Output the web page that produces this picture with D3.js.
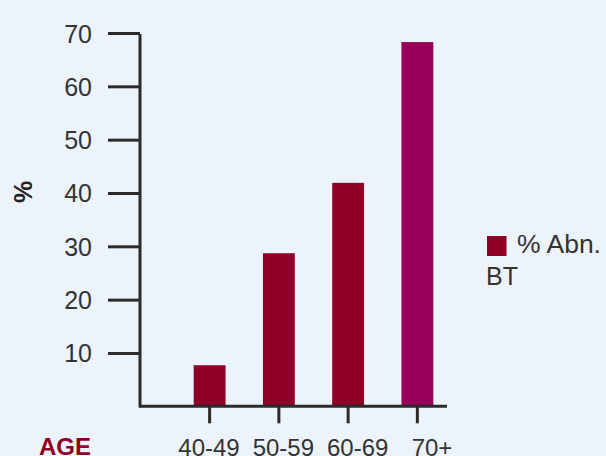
<!DOCTYPE html>
<html>
<head>
<meta charset="utf-8">
<script src="https://cdn.jsdelivr.net/npm/d3@7"></script>
<style>
  body { margin: 0; background: #edf3fb; }
  svg { display: block; font-family: "Liberation Sans", Arial, sans-serif; }
</style>
</head>
<body>
<svg id="chart"></svg>
<script>
var ageGroups = ["40-49", "50-59", "60-69", "70+"];
var abnBT = [7.7, 28.7, 41.9, 68.3];
var yTicks = [10, 20, 30, 40, 50, 60, 70];
var barColors = ["#8f0027", "#8f0027", "#8f0027", "#990057"];

var dimensions = {
  width: 606,
  height: 456,
  margin: { top: 33, left: 140 },
};

var svg = d3
  .select("#chart")
  .attr("width", dimensions.width)
  .attr("height", dimensions.height);

svg
  .append("rect")
  .attr("width", dimensions.width)
  .attr("height", dimensions.height)
  .attr("fill", "#edf3fb");

var yScale = d3.scaleLinear().domain([0, 70]).range([406.3, 33]);

var xScale = d3
  .scaleBand()
  .domain(ageGroups)
  .range([175, 452])
  .paddingInner(0.54)
  .paddingOuter(0.27);

// labels under the axis sit a bit wider apart than the ticks
var labelScale = d3.scalePoint().domain(ageGroups).range([209, 432]);

var data = ageGroups.map(function (d, i) {
  return { age: d, value: abnBT[i], color: barColors[i] };
});

// bars
svg
  .selectAll(".bar")
  .data(data)
  .enter()
  .append("rect")
  .attr("class", "bar")
  .attr("x", function (d) {
    return xScale(d.age);
  })
  .attr("width", xScale.bandwidth())
  .attr("y", function (d) {
    return yScale(d.value);
  })
  .attr("height", function (d) {
    return yScale(0) - yScale(d.value);
  })
  .attr("fill", function (d) {
    return d.color;
  });

// y axis
var yAxis = d3
  .axisLeft(yScale)
  .tickValues(yTicks)
  .tickSize(32)
  .tickSizeOuter(0)
  .tickPadding(16);

var yG = svg
  .append("g")
  .attr("transform", "translate(" + dimensions.margin.left + ",0)")
  .call(yAxis);
yG.select(".domain").remove();
yG.selectAll(".tick line").attr("stroke", "#2b2b2b").attr("stroke-width", 3);
yG.selectAll(".tick text")
  .attr("fill", "#333")
  .style("font-size", "25px")
  .attr("dy", "0.36em");

svg
  .append("line")
  .attr("x1", 140)
  .attr("x2", 140)
  .attr("y1", 34)
  .attr("y2", yScale(0) + 1)
  .attr("stroke", "#2b2b2b")
  .attr("stroke-width", 3);

// x axis
var xAxis = d3
  .axisBottom(xScale)
  .tickSize(17)
  .tickSizeOuter(0)
  .tickFormat("");

var xG = svg
  .append("g")
  .attr("transform", "translate(0," + yScale(0) + ")")
  .call(xAxis);
xG.select(".domain").remove();
xG.selectAll(".tick line").attr("stroke", "#2b2b2b").attr("stroke-width", 3);

svg
  .append("line")
  .attr("x1", 139)
  .attr("x2", 447)
  .attr("y1", yScale(0))
  .attr("y2", yScale(0))
  .attr("stroke", "#2b2b2b")
  .attr("stroke-width", 3);

svg
  .selectAll(".xlabel")
  .data(ageGroups)
  .enter()
  .append("text")
  .attr("class", "xlabel")
  .attr("x", function (d) {
    return labelScale(d);
  })
  .attr("y", 455.5)
  .attr("text-anchor", "middle")
  .attr("fill", "#333")
  .style("font-size", "24px")
  .text(function (d) {
    return d;
  });

// axis labels
svg
  .append("text")
  .attr("x", 91)
  .attr("y", 455)
  .attr("text-anchor", "end")
  .attr("fill", "#8f0027")
  .attr("font-weight", "bold")
  .style("font-size", "24px")
  .text("AGE");

svg
  .append("text")
  .attr("transform", "translate(32,192) rotate(-90)")
  .attr("text-anchor", "middle")
  .attr("fill", "#222")
  .attr("font-weight", "bold")
  .style("font-size", "25px")
  .text("%");

// legend
svg
  .append("rect")
  .attr("x", 487)
  .attr("y", 236)
  .attr("width", 19.5)
  .attr("height", 20)
  .attr("fill", barColors[0]);

svg
  .append("text")
  .attr("x", 517)
  .attr("y", 253)
  .attr("fill", "#333")
  .style("font-size", "26.5px")
  .text("% Abn.");

svg
  .append("text")
  .attr("x", 486)
  .attr("y", 285)
  .attr("fill", "#333")
  .style("font-size", "25px")
  .text("BT");
</script>
</body>
</html>
